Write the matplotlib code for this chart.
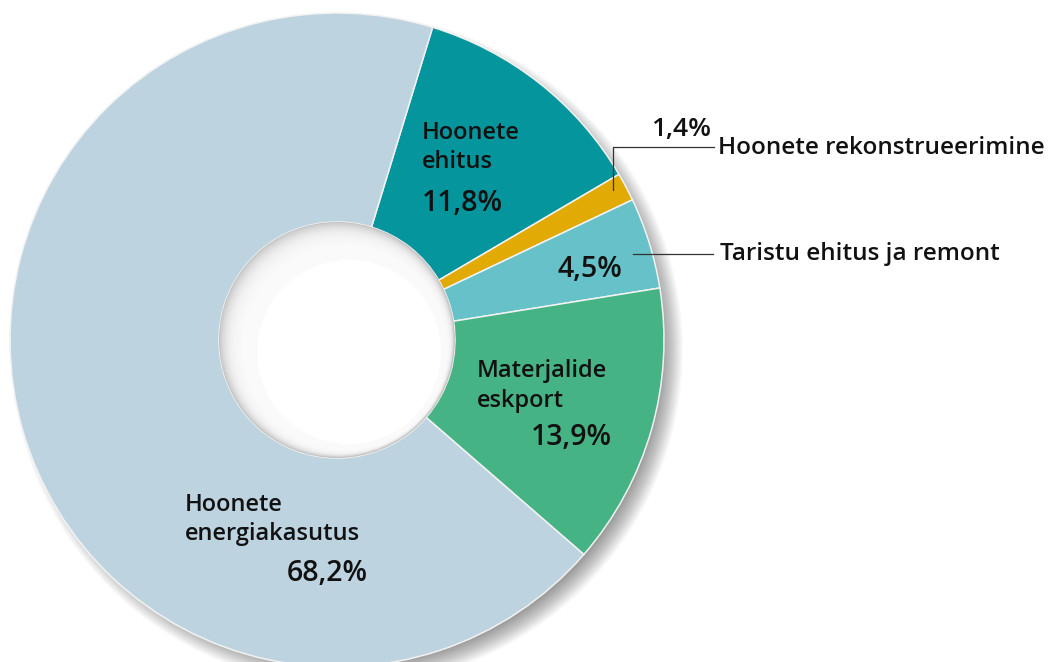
import matplotlib.pyplot as plt
from matplotlib.patches import Circle

# ---------------------------------------------------------------------
# data (clockwise from the top)
# ---------------------------------------------------------------------
categories = ["Hoonete ehitus", "Hoonete rekonstrueerimine", "Taristu ehitus ja remont",
              "Materjalide eskport", "Hoonete energiakasutus"]
shares = [11.8, 1.4, 4.5, 13.9, 68.2]
share_labels = ["11,8%", "1,4%", "4,5%", "13,9%", "68,2%"]
colors = ["#05959c", "#e1aa05", "#66c2c8", "#46b385", "#bdd3e0"]

W, H = 1053, 662
cx, cy = 337, H - 340          # donut centre in pixel units
r_out, r_in = 327, 118
ink = "#111111"
font = ["Open Sans", "DejaVu Sans"]

fig = plt.figure(figsize=(W / 100, H / 100), dpi=100)
ax = fig.add_axes([0, 0, 1, 1])

# soft drop shadow, falling to the lower right
for i in range(22):
    ax.add_patch(Circle((cx + 10, cy - 10), r_out + 9 - i * 1.0, color="black",
                        alpha=0.02, lw=0, zorder=0))

ax.pie(shares, colors=colors, startangle=73, counterclock=False,
       radius=r_out, center=(cx, cy),
       wedgeprops=dict(width=r_out - r_in, edgecolor="#f2f2f2", linewidth=1.1, zorder=2))

# hole with inner shading
ax.add_patch(Circle((cx, cy), r_in, color="#c4c4c4", lw=0, zorder=3))
for i in range(22):
    ax.add_patch(Circle((cx + i * 0.6, cy - i * 0.6), r_in - 1 - i * 1.1, color="white",
                        alpha=0.2, lw=0, zorder=3))
ax.add_patch(Circle((cx + 12, cy - 12), r_in - 26, color="white", lw=0, zorder=3))


def px(x, y):
    return x, H - y


def label(x, y, s, size, ha="left"):
    ax.text(*px(x, y), s, fontsize=size, ha=ha, va="baseline", color=ink,
            family=font, fontweight="semibold", zorder=5)


# inside labels
label(422, 139, "Hoonete", 17)
label(422, 168, "ehitus", 17)
label(422, 211, share_labels[0], 20.5)

label(477, 377, "Materjalide", 17)
label(477, 407, "eskport", 17)
label(612, 445, share_labels[3], 20.5, ha="right")

label(185, 511, "Hoonete", 17)
label(185, 540, "energiakasutus", 17)
label(368, 581, share_labels[4], 20.5, ha="right")

label(557, 277, share_labels[2], 20.5)

# outside labels with leader lines
label(711, 136, share_labels[1], 19, ha="right")
label(718, 154, categories[1], 17.5)
ax.plot(*zip(px(613, 190), px(613, 147), px(714, 147)), color="#333333", lw=0.9, zorder=5)

label(720, 260, categories[2], 17.5)
ax.plot(*zip(px(633, 254), px(713, 254)), color="#333333", lw=0.9, zorder=5)

ax.set_xlim(0, W)
ax.set_ylim(0, H)
ax.set_axis_off()

plt.savefig("out.png", dpi=100)
